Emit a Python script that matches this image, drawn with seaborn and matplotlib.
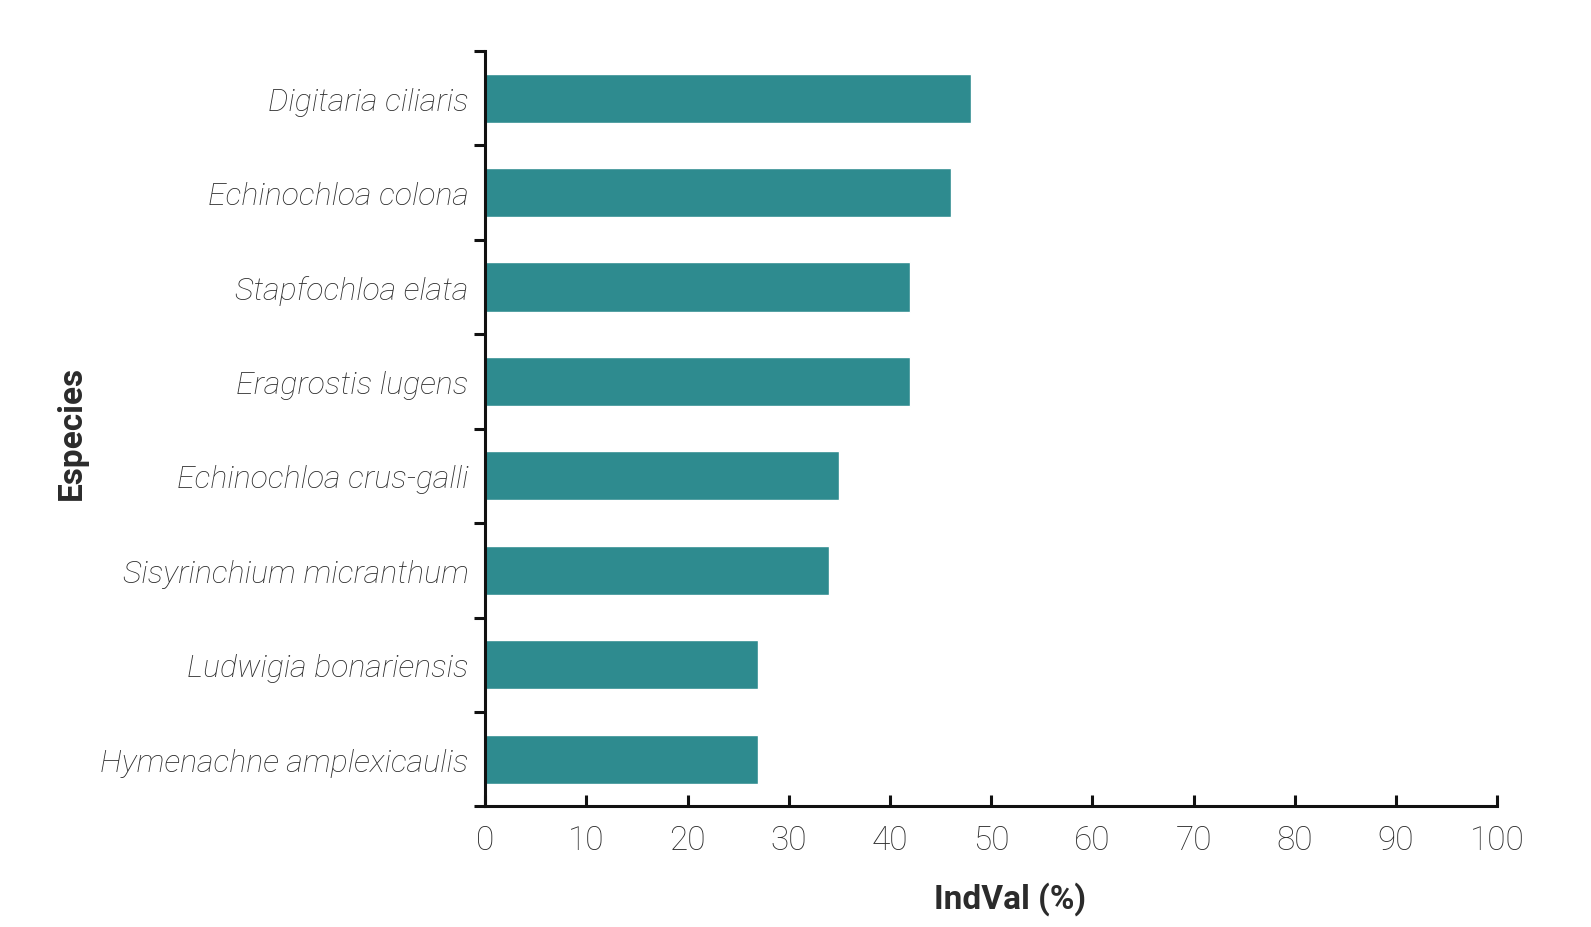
import numpy as np
import pandas as pd
import seaborn as sns
import matplotlib.pyplot as plt

# DATA
SPECIES = [
    "Digitaria ciliaris",
    "Echinochloa colona",
    "Stapfochloa elata",
    "Eragrostis lugens",
    "Echinochloa crus-galli",
    "Sisyrinchium micranthum",
    "Ludwigia bonariensis",
    "Hymenachne amplexicaulis",
]
INDVAL = [48, 46, 42, 42, 35, 34, 27, 27]
X_TICKS = [0, 10, 20, 30, 40, 50, 60, 70, 80, 90, 100]

BAR_COLOR = "#2e8b8f"
TEXT_COLOR = "#2b2b2b"
SPINE_COLOR = "#111111"


def main():
    sns.set_theme(style="white")
    plt.rcParams["font.family"] = ["Roboto", "DejaVu Sans"]

    df = pd.DataFrame({"species": SPECIES, "indval": INDVAL})

    fig = plt.figure(figsize=(15.91, 9.28), dpi=100)
    ax = fig.add_axes([0.305, 0.130, 0.636, 0.814])

    sns.barplot(data=df, x="indval", y="species", color=BAR_COLOR,
                saturation=1, width=0.52, ax=ax)

    ax.set_xlim(0, 100)
    ax.set_ylim(len(SPECIES) - 0.5, -0.5)

    # spines
    for side in ["top", "right"]:
        ax.spines[side].set_visible(False)
    for side in ["left", "bottom"]:
        ax.spines[side].set_color(SPINE_COLOR)
        ax.spines[side].set_linewidth(2.2)

    # x axis: ticks pointing inward
    ax.set_xticks(X_TICKS)
    ax.set_xticklabels([str(t) for t in X_TICKS], fontsize=24,
                       fontweight="light", color=TEXT_COLOR)
    ax.tick_params(axis="x", direction="in", length=8, width=2.2,
                   color=SPINE_COLOR, pad=13, bottom=True)

    # y axis: ticks at the category boundaries, labels in between
    ax.set_yticks(np.arange(len(SPECIES)))
    ax.set_yticklabels(SPECIES, fontsize=23, fontstyle="italic",
                       fontweight="light", color=TEXT_COLOR)
    ax.tick_params(axis="y", which="major", length=0, pad=12)
    ax.set_yticks(np.arange(len(SPECIES) + 1) - 0.5, minor=True)
    ax.tick_params(axis="y", which="minor", direction="out", length=8,
                   width=2.2, color=SPINE_COLOR, left=True)

    ax.set_xlabel("")
    ax.set_ylabel("")
    fig.text(0.635, 0.031, "IndVal (%)", ha="center", va="center",
             fontsize=24, fontweight="bold", color=TEXT_COLOR)
    fig.text(0.045, 0.534, "Especies", ha="center", va="center",
             rotation=90, fontsize=24, fontweight="bold", color=TEXT_COLOR)

    fig.savefig("out.png", dpi=100)
    plt.close(fig)


if __name__ == "__main__":
    main()
